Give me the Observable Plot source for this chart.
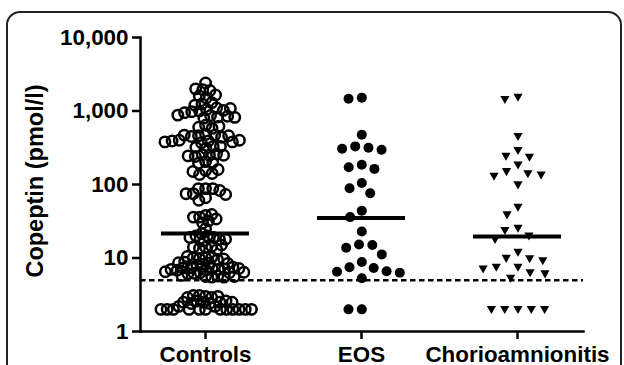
<!DOCTYPE html>
<html><head><meta charset="utf-8">
<script src="https://cdn.jsdelivr.net/npm/d3@7"></script>
<script src="https://cdn.jsdelivr.net/npm/@observablehq/plot@0.6"></script>
<style>
body{margin:0;background:#fff;}
#wrap{position:relative;width:624px;height:365px;overflow:hidden;}
#border{position:absolute;left:6px;top:11px;width:616px;height:420px;border:2px solid #222;border-radius:14px;box-sizing:border-box;}
#chart{position:absolute;left:0;top:0;}
</style></head><body>
<div id="wrap"><div id="border"></div><div id="chart"></div></div>
<script>
const categories = ["Controls", "EOS", "Chorioamnionitis"];
const yTicks = [1, 10, 100, 1000, 10000];
const yLabel = "Copeptin (pmol/l)";
const cutoff = [5];
const medians = [21.5, 35, 19.6];

const controls = [
  2400, 1950, 1900, 2000, 1650, 1600, 1500, 1250, 1300, 1200,
  1100, 1050, 1000, 980, 1020, 950, 1080, 870, 830, 850, 800, 880, 820,
  640, 600, 580, 620, 480, 460, 470, 450, 440, 470, 460,
  400, 390, 380, 370, 390, 400, 380, 330, 320, 310, 330,
  255, 250, 240, 260, 245, 250, 205, 200, 195, 155, 137, 141, 150, 160,
  88, 88, 88, 83, 75, 75, 73, 66, 61, 38, 36, 39, 32, 34, 30, 36, 25,
  21.5,
  20, 19, 20, 18, 19, 17, 18, 14, 13.5, 14.5, 13, 14, 15,
  10, 9.8, 10.2, 9.5, 10, 9.7, 10.5, 8.5, 8.2, 8.8, 8.0, 8.4, 8.6,
  7.2, 7.0, 7.4, 6.9, 7.3, 7.1, 7.5, 6.8, 7.2, 7.0,
  6.3, 6.2, 6.4, 6.1, 6.5, 6.3, 5.6, 5.5, 5.7, 5.8, 5.5, 5.6,
  3.0, 3.1, 2.9, 3.0, 3.1, 2.9, 2.5, 2.6, 2.4, 2.5, 2.6, 2.4, 2.5, 2.5,
  2.2, 2.2, 2, 2, 2, 2, 2, 2, 2, 2, 2, 2, 2, 2
];
const eos = [
  1520, 1466, 474, 330, 317, 307, 297, 186, 172, 163, 105, 89, 76,
  44, 36, 23, 15.3, 15, 13.8, 11.2, 8.8, 7.5, 7.3, 6.6, 6.5, 6.3, 5.3, 2, 2
];
const chorio = [
  1540, 1433, 450, 290, 243, 235, 185, 150, 140, 135, 130, 99, 49, 38.7,
  25.4, 23.7, 20, 17.9, 12, 9.9, 9.8, 9.2, 7.5, 7.5, 7.1, 6.3, 6.1, 5.3,
  2, 2, 2, 2, 2
];

const triangleDown = {
  draw(ctx, size) {
    const s = Math.sqrt(size / Math.PI);
    ctx.moveTo(-s, -0.75 * s);
    ctx.lineTo(s, -0.75 * s);
    ctx.lineTo(0, s);
    ctx.closePath();
  }
};

const font = "'Liberation Sans', Arial, Helvetica, sans-serif";
const W = 624, H = 365, mL = 140, mR = 41, mT = 37, mB = 34;
const pIn = 0.434, pOut = 0.135;
const xScale = d3.scaleBand().domain(categories).range([mL, W - mR]).paddingInner(pIn).paddingOuter(pOut);
const mid = (mL + W - mR) / 2;
// dodged dots get the band offset (bandwidth/2) added by Plot, so remove it here
const shift = c => xScale(c) - mid;

const hiControls = controls.filter(v => v >= 50);
const loControls = controls.filter(v => v < 50);

const plot = Plot.plot({
  width: W, height: H,
  marginLeft: mL, marginRight: mR, marginTop: mT, marginBottom: mB,
  style: {fontFamily: font, fontSize: "22.4px", fontWeight: "bold", color: "#000", background: "transparent"},
  y: {type: "log", domain: [1, 10000]},
  x: {type: "band", domain: categories, paddingInner: pIn, paddingOuter: pOut},
  marks: [
    Plot.axisY(yTicks, {anchor: "left", tickFormat: d3.format(","), tickSize: 8, tickPadding: 4, strokeWidth: 2.5, label: null}),
    Plot.axisX({anchor: "bottom", tickSize: 8, tickPadding: 7, strokeWidth: 2.5, label: null}),
    Plot.frame({anchor: "left", strokeWidth: 2.5}),
    Plot.frame({anchor: "bottom", strokeWidth: 2.5}),
    Plot.ruleY(cutoff, {strokeDasharray: "5.5,3.5", strokeWidth: 2.5}),
    Plot.tickY(medians, {x: categories, y: d => d, strokeWidth: 4}),
    Plot.dot(hiControls,
      Plot.dodgeX({anchor: "middle", padding: -3.2}, {y: d => d, r: 5.2, dx: shift(categories[0]), stroke: "#000", strokeWidth: 2.5, fill: "none"})),
    Plot.dot(loControls,
      Plot.dodgeX({anchor: "middle", padding: -4.2}, {y: d => d, r: 5.2, dx: shift(categories[0]), stroke: "#000", strokeWidth: 2.5, fill: "none"})),
    Plot.dot(eos,
      Plot.dodgeX({anchor: "middle", padding: 3.3}, {y: d => d, r: 5, dx: shift(categories[1]), fill: "#000", stroke: "none"})),
    Plot.dot(chorio,
      Plot.dodgeX({anchor: "middle", padding: 4.1}, {y: d => d, r: 4.6, dx: shift(categories[2]), symbol: triangleDown, fill: "#000", stroke: "none"})),
    Plot.text([yLabel], {frameAnchor: "left", textAnchor: "middle", lineAnchor: "middle", rotate: -90, dx: -105, dy: -3.5, fontSize: 23.5, fontWeight: "bold", fill: "#000"})
  ]
});
document.getElementById("chart").appendChild(plot);
</script>
</body></html>
